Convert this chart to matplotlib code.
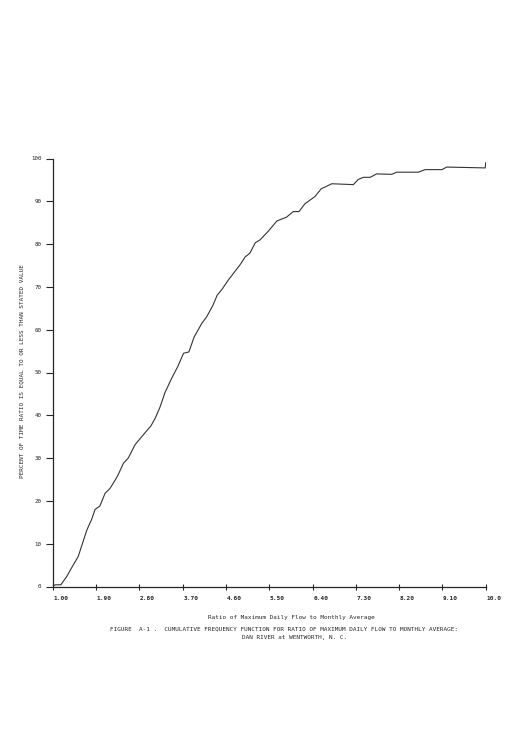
import matplotlib
matplotlib.use("Agg")
import matplotlib.pyplot as plt
from matplotlib.transforms import ScaledTranslation

# Data
ratio = [1.00, 1.05, 1.17, 1.29, 1.40, 1.53, 1.62, 1.71, 1.81, 1.88, 1.98, 2.09,
         2.19, 2.30, 2.36, 2.47, 2.57, 2.71, 2.85, 3.04, 3.13, 3.23, 3.33, 3.47,
         3.60, 3.72, 3.83, 3.94, 4.10, 4.20, 4.33, 4.42, 4.53, 4.65, 4.78, 4.89,
         5.00, 5.10, 5.21, 5.31, 5.48, 5.66, 5.86, 6.00, 6.12, 6.24, 6.45, 6.58,
         6.80, 7.25, 7.35, 7.46, 7.60, 7.73, 8.05, 8.15, 8.60, 8.74, 9.09, 9.19,
         9.99, 10.0]
percent = [0.0, 0.4, 0.4, 2.3, 4.5, 7.0, 10.1, 13.2, 15.7, 18.0, 18.8, 21.8,
           22.9, 24.9, 26.1, 28.8, 30.0, 33.1, 35.0, 37.5, 39.3, 41.9, 45.2, 48.6,
           51.4, 54.5, 54.8, 58.3, 61.5, 63.0, 65.7, 68.1, 69.6, 71.6, 73.5, 75.1,
           77.0, 77.9, 80.3, 81.0, 83.0, 85.4, 86.3, 87.6, 87.6, 89.4, 91.1, 92.9,
           94.1, 93.9, 95.1, 95.6, 95.6, 96.4, 96.3, 96.8, 96.8, 97.4, 97.4, 98.0,
           97.8, 99.0]
x_ticks = [1.00, 1.90, 2.80, 3.70, 4.60, 5.50, 6.40, 7.30, 8.20, 9.10, 10.0]
x_tick_labels = ["1.00", "1.90", "2.80", "3.70", "4.60", "5.50", "6.40",
                 "7.30", "8.20", "9.10", "10.0"]
y_ticks = [0, 10, 20, 30, 40, 50, 60, 70, 80, 90, 100]

MONO = ["DejaVu Sans Mono"]
ink = "#262626"
W, H = 514, 746

fig = plt.figure(figsize=(W / 100, H / 100), dpi=100)
ax = fig.add_axes([52.7 / W, 159.5 / H, 433 / W, 428 / H])
ax.plot(ratio, percent, color="#333333", lw=0.8)

ax.set_xlim(1.0, 10.0)
ax.set_ylim(0, 100)
for s in ["top", "right"]:
    ax.spines[s].set_visible(False)
for s in ["left", "bottom"]:
    ax.spines[s].set_color(ink)
    ax.spines[s].set_linewidth(0.9)

ax.set_xticks(x_ticks)
ax.set_xticklabels(x_tick_labels, fontfamily=MONO, fontsize=4.4, fontweight="bold",
                   ha="left")
ax.set_yticks(y_ticks)
ax.set_yticklabels([str(v) for v in y_ticks], fontfamily=MONO, fontsize=4.2)
ax.tick_params(axis="x", direction="inout", length=5, width=0.8, colors=ink, pad=4)
ax.tick_params(axis="y", direction="out", length=5, width=0.8, colors=ink, pad=3)
offset = ScaledTranslation(0.5 / 72, 0, fig.dpi_scale_trans)
for lbl in ax.get_xticklabels():
    lbl.set_transform(lbl.get_transform() + offset)

fig.text(21.7 / W, 1 - 371 / H,
         "PERCENT OF TIME RATIO IS EQUAL TO OR LESS THAN STATED VALUE",
         rotation=90, ha="center", va="center", fontfamily=MONO, fontsize=4.3,
         color=ink)
fig.text(291 / W, 1 - 617 / H, "Ratio of Maximum Daily Flow to Monthly Average",
         ha="center", va="center", fontfamily=MONO, fontsize=4.3, color=ink)
fig.text(284 / W, 1 - 629 / H,
         "FIGURE  A-1 .  CUMULATIVE FREQUENCY FUNCTION FOR RATIO OF MAXIMUM DAILY FLOW TO MONTHLY AVERAGE:",
         ha="center", va="center", fontfamily=MONO, fontsize=4.3, color=ink)
fig.text(294.5 / W, 1 - 637 / H, "DAN RIVER at WENTWORTH, N. C.",
         ha="center", va="center", fontfamily=MONO, fontsize=4.3, color=ink)

fig.savefig("out.png", dpi=100)
